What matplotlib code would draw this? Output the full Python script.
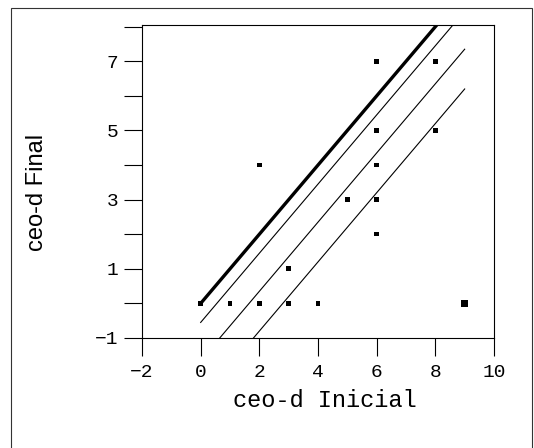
import numpy as np
import matplotlib
matplotlib.use("Agg")
import matplotlib.pyplot as plt
from matplotlib.patches import Rectangle
from matplotlib.ticker import MultipleLocator

# ceo-d at the start and at the end of follow-up
ceo_inicial = [0, 1, 2, 3, 4, 2, 3, 5, 6, 6, 6, 6, 6, 8, 8, 9]
ceo_final = [0, 0, 0, 0, 0, 4, 1, 3, 7, 5, 4, 3, 2, 7, 5, 0]
point_size = [10, 10, 10, 14, 10, 10, 14, 10, 10, 10, 10, 10, 10, 10, 10, 30]

# identity line (no change)
ident_x = [0, 8.05]
ident_y = [0, 8.05]

# fitted line and its band: intercept, slope, x start, x end
fit_intercept = [-0.55, -1.65, -2.8]
fit_slope = [1.0, 1.0, 1.0]
fit_x0 = [0.0, 0.65, 1.8]
fit_x1 = [8.6, 9.0, 9.0]

mono = "Liberation Mono"

fig = plt.figure(figsize=(5.34, 4.48), dpi=100)
ax = fig.add_axes([142 / 534, 1 - 338 / 448, 352 / 534, 313 / 448])

ax.plot(ident_x, ident_y, color="black", lw=2.4, solid_capstyle="butt")
for b, m, x0, x1 in zip(fit_intercept, fit_slope, fit_x0, fit_x1):
    xs = np.array([x0, x1])
    ax.plot(xs, b + m * xs, color="black", lw=0.8)

ax.scatter(ceo_inicial, ceo_final, s=point_size, marker="s", color="black",
           linewidths=0, zorder=3)

ax.set_xlim(-2, 10)
ax.set_ylim(-1, 8.05)
ax.set_xticks([-2, 0, 2, 4, 6, 8, 10])
ax.set_xticklabels(["\u22122", "0", "2", "4", "6", "8", "10"])
ax.set_yticks([-1, 1, 3, 5, 7])
ax.set_yticklabels(["\u22121", "1", "3", "5", "7"])
ax.yaxis.set_minor_locator(MultipleLocator(2))
ax.tick_params(axis="both", which="both", direction="out", length=13,
               width=0.8, labelsize=14)
ax.tick_params(axis="x", pad=6)
ax.tick_params(axis="y", pad=4)
for lab in ax.get_xticklabels() + ax.get_yticklabels():
    lab.set_fontfamily(mono)

for sp in ax.spines.values():
    sp.set_linewidth(0.8)

ax.set_xlabel("ceo-d Inicial", fontsize=17, fontfamily=mono)
ax.xaxis.set_label_coords((325 - 142) / 352, -(400 - 338) / 313)
ax.xaxis.label.set_va("center")
ax.set_ylabel("ceo-d Final", fontsize=17, fontfamily="Liberation Sans")
ax.yaxis.set_label_coords((37 - 142) / 352, (338 - 192) / 313)
ax.yaxis.label.set_va("center")

# outer frame around the whole panel
fig.patches.append(Rectangle((11 / 534, -0.05), 521 / 534, 1.04 - 4 / 448,
                             transform=fig.transFigure, fill=False,
                             edgecolor="#333333", lw=0.8))

plt.savefig("out.png", dpi=100)
